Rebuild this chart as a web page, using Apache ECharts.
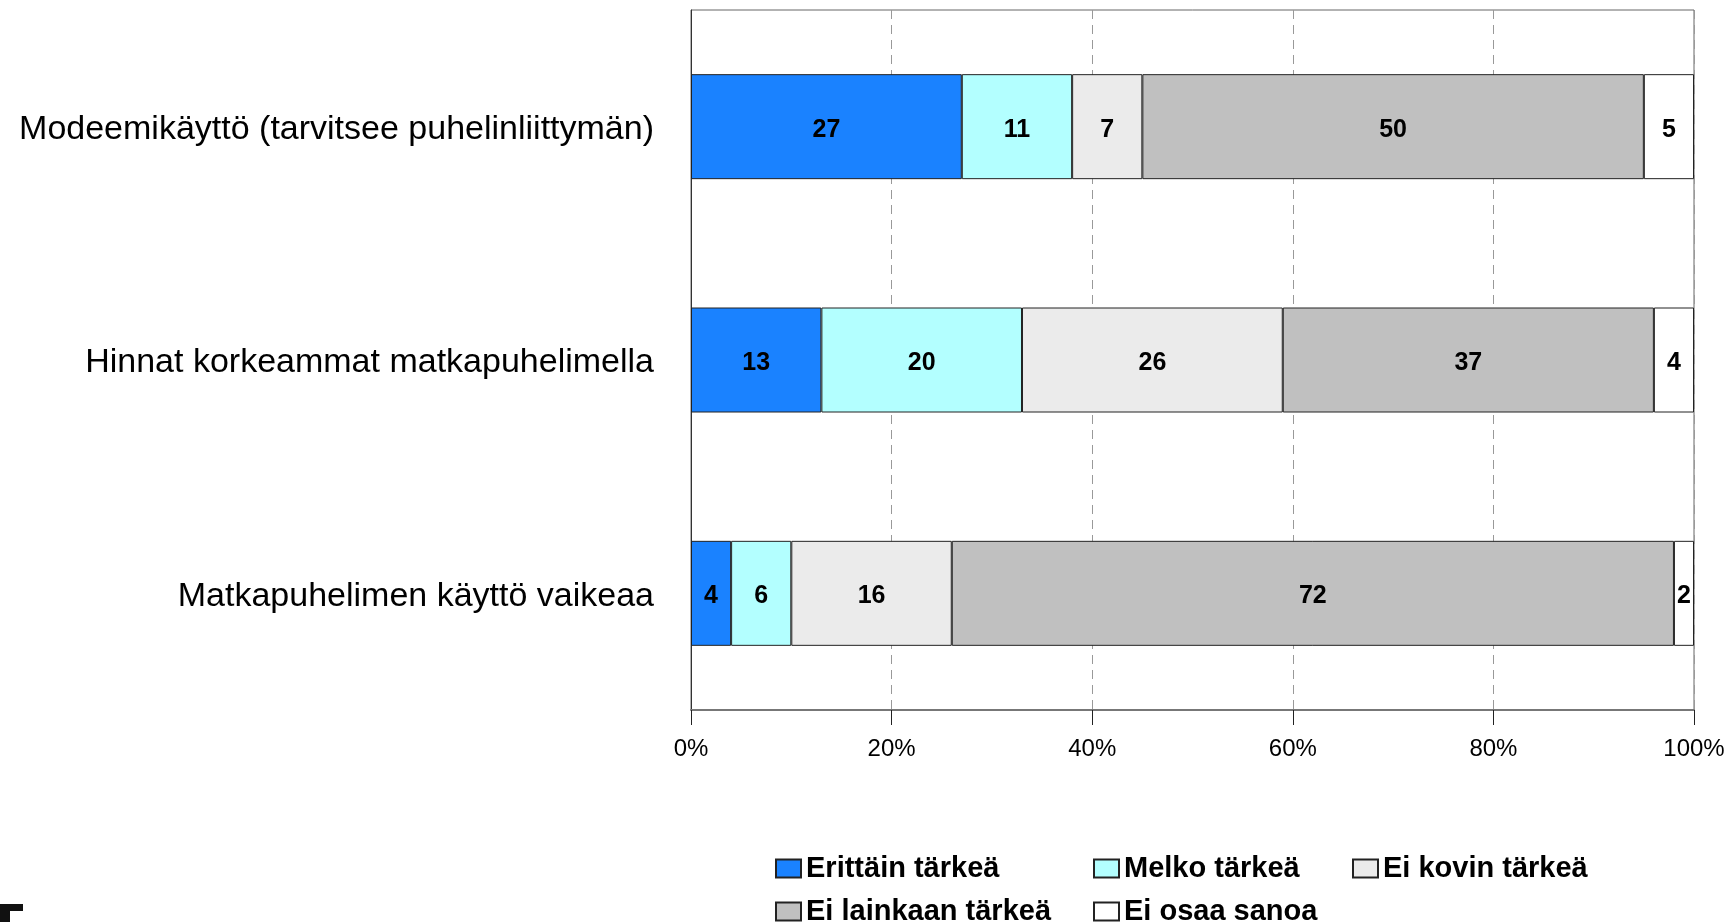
<!DOCTYPE html>
<html>
<head>
<meta charset="utf-8">
<script src="https://cdn.jsdelivr.net/npm/echarts@6/dist/echarts.min.js"></script>
<style>
  html, body { margin: 0; padding: 0; background: #fff; }
  #main { width: 1735px; height: 922px; }
</style>
</head>
<body>
<div id="main"></div>
<script>
// kategoriat ylhäältä alas
var categories = [
  'Modeemikäyttö (tarvitsee puhelinliittymän)',
  'Hinnat korkeammat matkapuhelimella',
  'Matkapuhelimen käyttö vaikeaa'
];
var seriesNames = ['Erittäin tärkeä', 'Melko tärkeä', 'Ei kovin tärkeä', 'Ei lainkaan tärkeä', 'Ei osaa sanoa'];
var erittain = [27, 13, 4];
var melko = [11, 20, 6];
var eiKovin = [7, 26, 16];
var eiLainkaan = [50, 37, 72];
var eiOsaa = [5, 4, 2];
var xTicks = [0, 20, 40, 60, 80, 100];

var colors = ['#1a82ff', '#b3ffff', '#ebebeb', '#c0c0c0', '#ffffff'];
var values = [erittain, melko, eiKovin, eiLainkaan, eiOsaa];
var font = '"Liberation Sans", Arial, Helvetica, sans-serif';

var chart = echarts.init(document.getElementById('main'), null, { renderer: 'canvas' });

var series = seriesNames.map(function (name, i) {
  return {
    name: name,
    type: 'bar',
    stack: 'total',
    barWidth: 105,
    data: values[i],
    itemStyle: {
      color: colors[i],
      borderColor: '#222',
      borderWidth: 1
    },
    label: {
      show: true,
      position: 'inside',
      offset: [0, 3],
      color: '#000',
      fontFamily: font,
      fontWeight: 'bold',
      fontSize: 25
    },
    emphasis: { disabled: true }
  };
});

// legendit sarakkeisiin
var legendPos = [
  [775, 854], [1093, 854], [1352, 854],
  [775, 897], [1093, 897]
];
var legends = seriesNames.map(function (name, i) {
  return {
    data: [name],
    left: legendPos[i][0],
    top: legendPos[i][1],
    padding: 0,
    icon: 'rect',
    itemWidth: 25,
    itemHeight: 18,
    selectedMode: false,
    textStyle: {
      fontFamily: font,
      fontWeight: 'bold',
      fontSize: 29,
      color: '#000'
    }
  };
});

var option = {
  animation: false,
  backgroundColor: '#fff',
  grid: {
    left: 691,
    right: 41,
    top: 10,
    bottom: 212,
    show: true,
    borderColor: '#666',
    borderWidth: 1,
    containLabel: false
  },
  legend: legends,
  xAxis: {
    type: 'value',
    min: xTicks[0],
    max: xTicks[xTicks.length - 1],
    interval: 20,
    axisLine: { show: true, lineStyle: { color: '#777', width: 2 } },
    axisTick: { show: true, length: 15, lineStyle: { color: '#222' } },
    axisLabel: {
      formatter: '{value}%',
      color: '#000',
      fontFamily: font,
      fontSize: 24,
      margin: 27
    },
    splitLine: { show: true, lineStyle: { color: '#999', type: [9, 6] } }
  },
  yAxis: {
    type: 'category',
    inverse: true,
    data: categories,
    axisLine: { show: true, lineStyle: { color: '#333' } },
    axisTick: { show: false },
    axisLabel: {
      color: '#000',
      fontFamily: font,
      fontSize: 34,
      margin: 37,
      formatter: function (v) { return '{c|' + v + '}'; },
      rich: {
        c: { fontFamily: font, fontSize: 34, color: '#000', padding: [6, 0, 0, 0] }
      }
    }
  },
  graphic: [
    { type: 'rect', left: 0, top: 904, shape: { width: 23, height: 7 }, style: { fill: '#111' } },
    { type: 'rect', left: 0, top: 904, shape: { width: 10, height: 18 }, style: { fill: '#111' } }
  ],
  series: series
};

chart.setOption(option);
</script>
</body>
</html>
